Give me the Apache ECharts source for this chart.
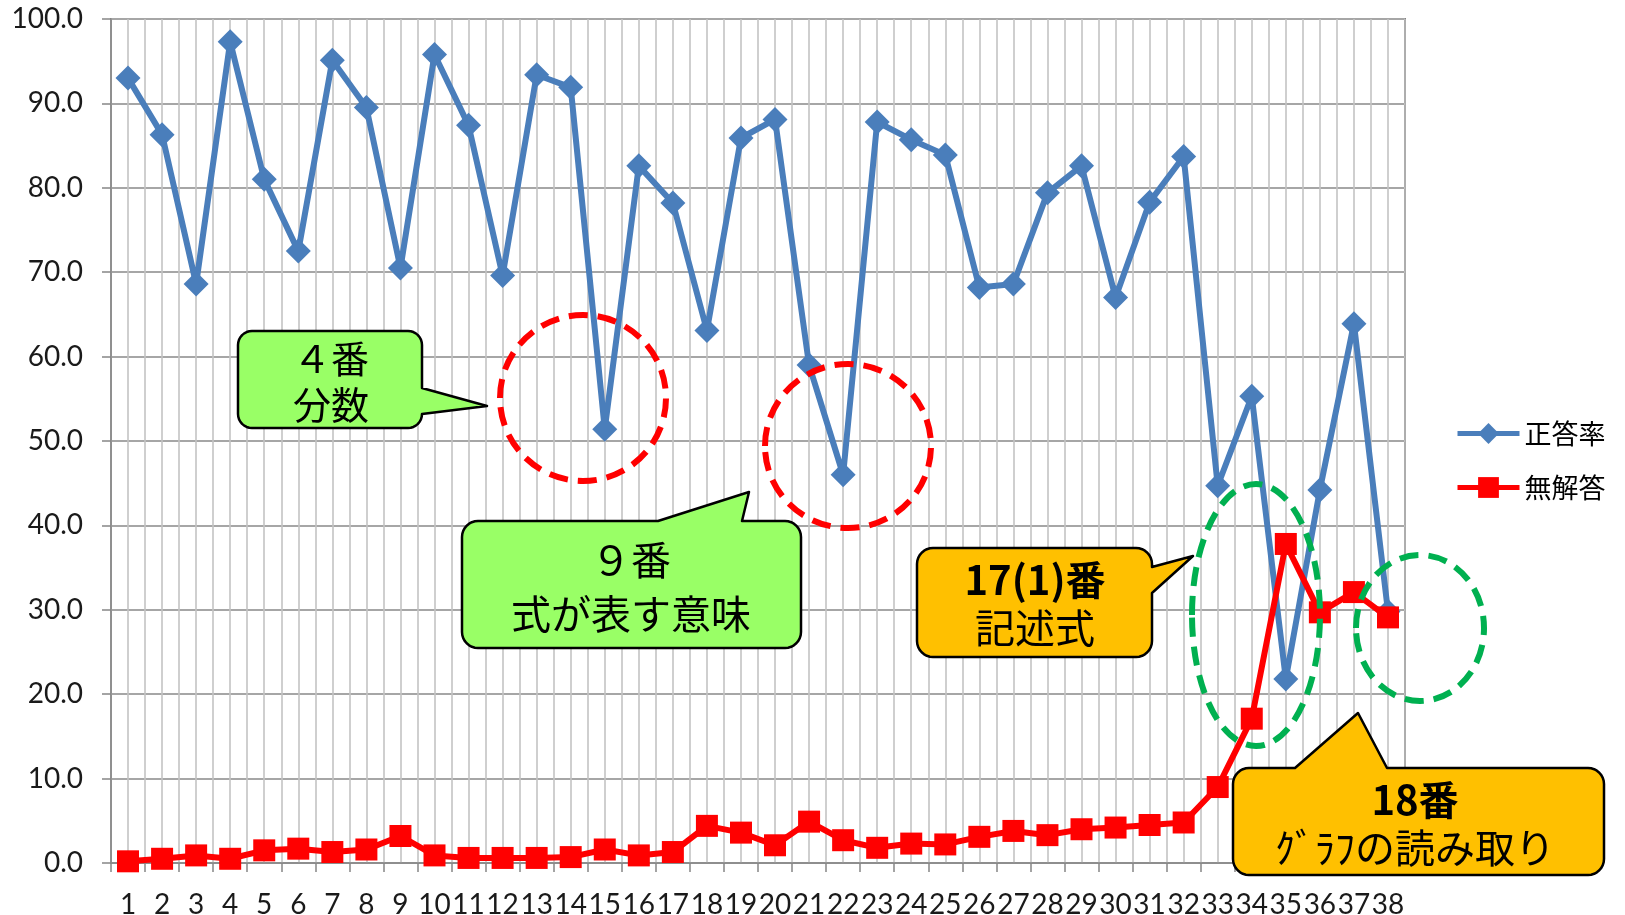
<!DOCTYPE html>
<html>
<head>
<meta charset="utf-8">
<title>正答率・無解答</title>
<script src="https://cdn.jsdelivr.net/npm/echarts@6/dist/echarts.min.js"></script>
<style>
  html, body { margin: 0; padding: 0; background: #fff; }
  #chart { width: 1625px; height: 915px; }
</style>
</head>
<body>
<div id="chart"></div>
<script>
// question numbers 1..38
const questions = ['1','2','3','4','5','6','7','8','9','10','11','12','13','14','15','16','17','18','19',
  '20','21','22','23','24','25','26','27','28','29','30','31','32','33','34','35','36','37','38']

// 正答率 (%)
const correctRate = [93.0, 86.3, 68.6, 97.3, 81.0, 72.5, 95.1, 89.5, 70.5, 95.8,
  87.4, 69.6, 93.4, 91.9, 51.4, 82.6, 78.2, 63.1, 85.9, 88.1,
  59.0, 46.0, 87.8, 85.7, 83.9, 68.2, 68.6, 79.4, 82.6, 67.0,
  78.3, 83.7, 44.7, 55.3, 21.8, 44.2, 63.9, 29.8]

// 無解答 (%)
const noAnswer = [0.2, 0.5, 0.9, 0.5, 1.5, 1.7, 1.3, 1.6, 3.2, 0.9,
  0.6, 0.6, 0.6, 0.7, 1.6, 0.9, 1.3, 4.4, 3.6, 2.1,
  4.9, 2.7, 1.8, 2.3, 2.2, 3.1, 3.8, 3.3, 4.0, 4.2,
  4.5, 4.8, 9.0, 17.1, 37.8, 29.7, 32.1, 29.1]

const yMin = 0
const yMax = 100
const yStep = 10

const font = '"Lato", "Noto Sans", sans-serif'
const jpFont = '"Noto Sans CJK JP", sans-serif'

// speech bubble outline: rounded rect + pointer, as one polygon
function bubble(x, y, w, h, r, side, p1, p2, tip) {
  const pts = []
  const arc = (cx, cy, a0) => {
    for (let i = 0; i <= 8; i++) {
      const a = a0 + i * Math.PI / 16
      pts.push([cx + r * Math.cos(a), cy + r * Math.sin(a)])
    }
  }
  arc(x + r, y + r, Math.PI)
  if (side === 'top') pts.push([p1, y], tip, [p2, y])
  arc(x + w - r, y + r, -Math.PI / 2)
  if (side === 'right') pts.push([x + w, p1], tip, [x + w, p2])
  arc(x + w - r, y + h - r, 0)
  arc(x + r, y + h - r, Math.PI / 2)
  return pts
}

function callout(fill, pts, lines) {
  const els = [{
    type: 'polygon',
    z: 100,
    shape: { points: pts },
    style: { fill, stroke: '#000', lineWidth: 2.5, lineJoin: 'round' }
  }]
  lines.forEach(l => {
    els.push({
      type: 'text',
      z: 101,
      x: l.x,
      y: l.y,
      style: {
        text: l.text,
        font: `${l.bold ? 'bold' : 'normal'} ${l.size}px ${jpFont}`,
        fill: '#000',
        align: 'center',
        verticalAlign: 'middle'
      }
    })
  })
  return els
}

function dashedRing(cx, cy, rx, ry, color) {
  return {
    type: 'ellipse',
    z: 99,
    shape: { cx, cy, rx, ry },
    style: { fill: 'none', stroke: color, lineWidth: 6, lineDash: [19, 10] }
  }
}

const chart = echarts.init(document.getElementById('chart'))

const option = {
  animation: false,
  backgroundColor: '#fff',
  textStyle: { fontFamily: font },
  grid: {
    left: 111,
    right: 220,
    top: 19,
    bottom: 52,
    outerBoundsMode: 'none',
    containLabel: false,
    show: true,
    borderColor: '#262626',
    borderWidth: 1.5
  },
  legend: {
    orient: 'vertical',
    left: 1450,
    top: 415,
    itemWidth: 62,
    itemHeight: 26,
    itemGap: 27,
    lineStyle: { width: 5 },
    textStyle: { fontFamily: jpFont, fontSize: 27, color: '#000' },
    data: ['正答率', '無解答']
  },
  xAxis: [
    {
      type: 'category',
      data: questions,
      boundaryGap: true,
      axisLine: { lineStyle: { color: '#868686', width: 1.5 } },
      axisTick: { show: true, interval: 0, length: 9, lineStyle: { color: '#868686', width: 1.5 } },
      axisLabel: { interval: 0, fontSize: 28, color: '#1a1a1a', margin: 28, fontFamily: font },
      splitLine: { show: false }
    },
    {
      // half-question gridlines (Excel major + minor)
      type: 'value',
      min: 0,
      max: questions.length * 2,
      interval: 1,
      axisLine: { show: false },
      axisTick: { show: false },
      axisLabel: { show: false },
      splitLine: { show: true, lineStyle: { color: '#c3c3c3', width: 1.6 } }
    }
  ],
  yAxis: {
    type: 'value',
    min: yMin,
    max: yMax,
    interval: yStep,
    axisLine: { show: true, lineStyle: { color: '#868686', width: 1.5 } },
    axisTick: { show: true, length: 9, lineStyle: { color: '#868686', width: 1.5 } },
    axisLabel: {
      fontSize: 28,
      color: '#1a1a1a',
      margin: 28,
      fontFamily: font,
      formatter: v => v.toFixed(1)
    },
    splitLine: { lineStyle: { color: '#a6a6a6', width: 1.8 } }
  },
  series: [
    {
      name: '正答率',
      type: 'line',
      data: correctRate,
      symbol: 'diamond',
      symbolSize: 25,
      lineStyle: { color: '#4a7ebb', width: 6 },
      itemStyle: { color: '#4a7ebb' },
      z: 3
    },
    {
      name: '無解答',
      type: 'line',
      data: noAnswer,
      symbol: 'rect',
      symbolSize: 22,
      lineStyle: { color: '#ff0000', width: 6 },
      itemStyle: { color: '#ff0000' },
      z: 4
    }
  ],
  graphic: [
    dashedRing(583, 398, 83, 83, '#ff0000'),
    dashedRing(848, 446, 83, 82, '#ff0000'),
    dashedRing(1256, 615, 64, 131, '#00b050'),
    dashedRing(1420, 628, 64, 73, '#00b050'),
    ...callout('#99ff66', bubble(238, 331, 184, 97, 14, 'right', 388, 414, [487, 406]), [
      { text: '４番', x: 331, y: 359, size: 38 },
      { text: '分数', x: 331, y: 405, size: 38 }
    ]),
    ...callout('#99ff66', bubble(462, 521, 339, 127, 16, 'top', 658, 742, [749, 492]), [
      { text: '９番', x: 631, y: 560, size: 40 },
      { text: '式が表す意味', x: 631, y: 614, size: 40 }
    ]),
    ...callout('#ffc000', bubble(917, 548, 235, 109, 16, 'right', 567, 593, [1193, 556]), [
      { text: '17(1)番', x: 1035, y: 580, size: 40, bold: true },
      { text: '記述式', x: 1035, y: 628, size: 40 }
    ]),
    ...callout('#ffc000', bubble(1233, 768, 371, 107, 16, 'top', 1295, 1387, [1358, 713]), [
      { text: '18番', x: 1415, y: 800, size: 40, bold: true },
      { text: 'ｸﾞﾗﾌの読み取り', x: 1415, y: 848, size: 40 }
    ])
  ]
}

chart.setOption(option)
</script>
</body>
</html>
